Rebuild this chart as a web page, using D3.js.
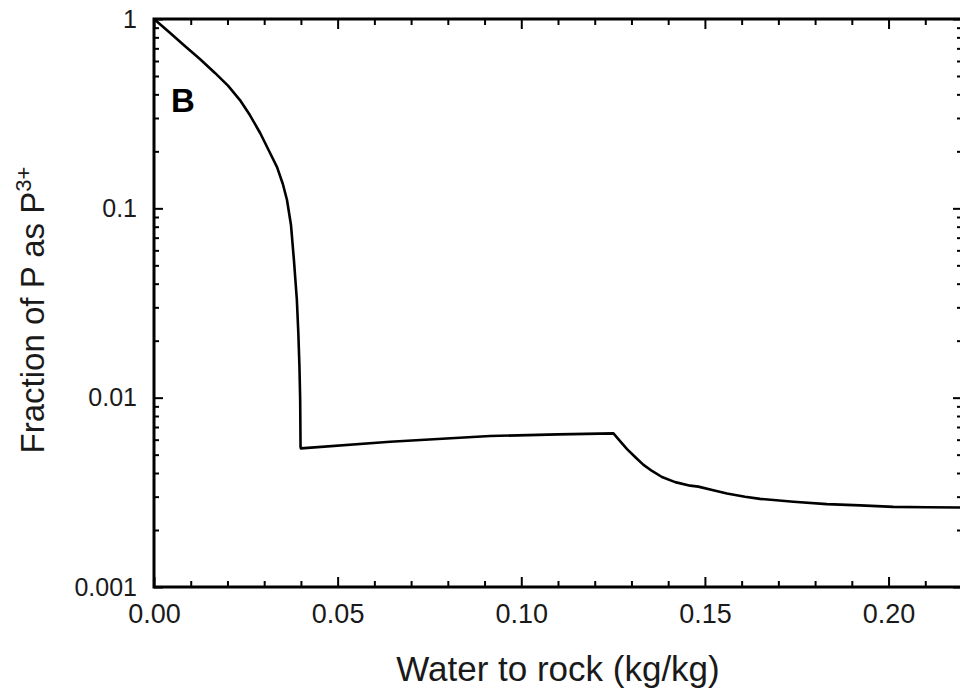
<!DOCTYPE html>
<html>
<head>
	<script src="https://d3js.org/d3.v7.min.js"></script>
	<meta charset="UTF-8">
	<style>
		body{
			margin: 0;
			background-color: #ffffff;
		}
		text{
			font-family: "Liberation Sans", Arial, sans-serif;
		}
	</style>
</head>
<body>
	<script type="text/javascript">
		// water to rock ratio (kg/kg)
		var waterRock = [0, 0.0044, 0.0084, 0.0125, 0.0166, 0.0202, 0.0234, 0.0261, 0.0289, 0.0316, 0.0335, 0.0351, 0.0362, 0.0373, 0.0381,
			0.0389, 0.0393, 0.0396, 0.0398, 0.0399, 0.0400,
			0.0643, 0.0915, 0.1100, 0.1251, 0.1269, 0.1288, 0.1310, 0.1332, 0.1356, 0.1383, 0.1419, 0.1460, 0.1482, 0.1520, 0.1560,
			0.1609, 0.1650, 0.1741, 0.1832, 0.1923, 0.2013, 0.2104, 0.2200];
		// fraction of P as P3+
		var fracP3 = [1.0, 0.843, 0.720, 0.615, 0.519, 0.443, 0.373, 0.311, 0.250, 0.196, 0.165, 0.134, 0.111, 0.0816, 0.0533,
			0.0328, 0.0219, 0.0146, 0.0097, 0.0055, 0.0054,
			0.00585, 0.00627, 0.0064, 0.00648, 0.0059, 0.00535, 0.00486, 0.00443, 0.0041, 0.00381, 0.00358, 0.00343, 0.00339, 0.00325, 0.00312,
			0.003, 0.00292, 0.00282, 0.00274, 0.0027, 0.00265, 0.00264, 0.00263];

		var xTicks = [0, 0.05, 0.10, 0.15, 0.20];
		var xTickLabels = ["0.00", "0.05", "0.10", "0.15", "0.20"];
		var yTicks = [1, 0.1, 0.01, 0.001];
		var yTickLabels = ["1", "0.1", "0.01", "0.001"];

		var data = waterRock.map(function(d, i){ return {x: d, y: fracP3[i]}; });

		var w = 960;
		var h = 691;
		var pL = 154, pR = 962, pT = 19, pB = 587;

		var xScale = d3.scaleLinear().domain([0, 0.22]).range([pL, pR]);
		var yScale = d3.scaleLog().domain([0.001, 1]).range([pB, pT]);

		var svg = d3.select('body').append('svg').attr('width', w).attr('height', h);

		// minor ticks
		var xMinor = d3.range(1, 22).map(function(i){ return i / 100; }).filter(function(d, i){ return (i + 1) % 5 != 0; });
		var yMinor = [];
		[0.001, 0.01, 0.1].forEach(function(p){ for (var k = 2; k < 10; k++) yMinor.push(p * k); });

		function styleAxis(fs){
			return function(g){
				g.select(".domain").remove();
				g.selectAll(".tick line").attr("stroke", "#000").attr("stroke-width", 2);
				g.selectAll(".tick text").attr("fill", "#1a1a1a").style("font-size", fs + "px");
			};
		}

		// bottom
		svg.append("g").attr("transform", "translate(0," + pB + ")")
			.call(d3.axisBottom(xScale).tickValues(xTicks).tickSize(-10).tickSizeOuter(0).tickPadding(17)
				.tickFormat(function(d, i){ return xTickLabels[i]; }))
			.call(styleAxis(27));
		svg.append("g").attr("transform", "translate(0," + pB + ")")
			.call(d3.axisBottom(xScale).tickValues(xMinor).tickSize(-6).tickFormat(""))
			.call(styleAxis(27));
		// top
		svg.append("g").attr("transform", "translate(0," + pT + ")")
			.call(d3.axisTop(xScale).tickValues(xTicks).tickSize(-10).tickFormat(""))
			.call(styleAxis(27));
		svg.append("g").attr("transform", "translate(0," + pT + ")")
			.call(d3.axisTop(xScale).tickValues(xMinor).tickSize(-6).tickFormat(""))
			.call(styleAxis(27));
		// left
		svg.append("g").attr("transform", "translate(" + pL + ",0)")
			.call(d3.axisLeft(yScale).tickValues(yTicks).tickSize(-9).tickPadding(17)
				.tickFormat(function(d, i){ return yTickLabels[i]; }))
			.call(styleAxis(25));
		svg.append("g").attr("transform", "translate(" + pL + ",0)")
			.call(d3.axisLeft(yScale).tickValues(yMinor).tickSize(-5).tickFormat(""))
			.call(styleAxis(25));
		// right
		svg.append("g").attr("transform", "translate(" + pR + ",0)")
			.call(d3.axisRight(yScale).tickValues(yTicks).tickSize(-9).tickFormat(""))
			.call(styleAxis(25));
		svg.append("g").attr("transform", "translate(" + pR + ",0)")
			.call(d3.axisRight(yScale).tickValues(yMinor).tickSize(-5).tickFormat(""))
			.call(styleAxis(25));

		// frame
		svg.append("rect").attr("x", pL).attr("y", pT).attr("width", pR - pL).attr("height", pB - pT)
			.attr("fill", "none").attr("stroke", "#000").attr("stroke-width", 3);

		// curve
		var line = d3.line().x(function(d){ return xScale(d.x); }).y(function(d){ return yScale(d.y); });
		svg.append("path").attr("fill", "none").attr("stroke", "#000").attr("stroke-width", 2.6)
			.attr("stroke-linejoin", "round").attr("d", line(data));

		// panel letter
		svg.append("text").attr("x", 171).attr("y", 112).style("font-size", "33px").style("font-weight", "bold").attr("fill", "#000").text("B");

		// axis titles
		svg.append("text").attr("x", 558).attr("y", 681).attr("text-anchor", "middle")
			.style("font-size", "35px").attr("fill", "#1a1a1a").text("Water to rock (kg/kg)");

		var yt = svg.append("text").attr("transform", "translate(44,310) rotate(-90)").attr("text-anchor", "middle")
			.style("font-size", "33px").attr("fill", "#1a1a1a");
		yt.append("tspan").text("Fraction of P as P");
		yt.append("tspan").attr("dy", "-13").style("font-size", "22px").text("3+");
	</script>
</body>
</html>
